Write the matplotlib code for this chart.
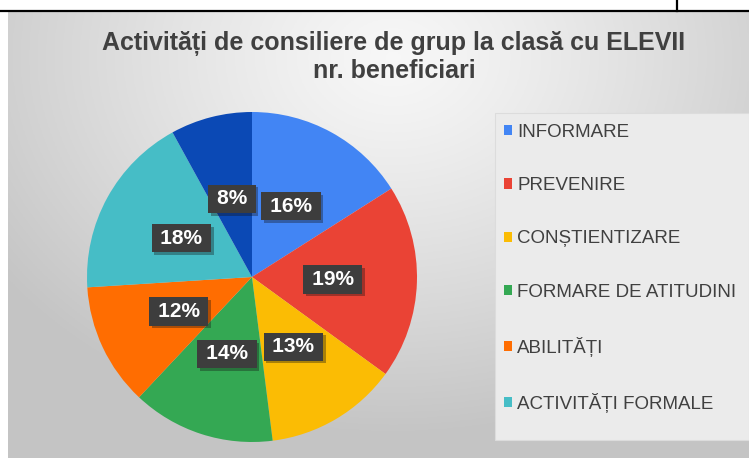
import numpy as np
import matplotlib.pyplot as plt
from matplotlib.lines import Line2D
from matplotlib.patches import Rectangle
import matplotlib.patheffects as pe

plt.rcParams['font.family'] = ['Liberation Sans', 'DejaVu Sans']

# date
categorii = ["INFORMARE", "PREVENIRE", "CONȘTIENTIZARE", "FORMARE DE ATITUDINI",
             "ABILITĂȚI", "ACTIVITĂȚI FORMALE", ""]
procente = [16, 19, 13, 14, 12, 18, 8]
culori = ["#4285F4", "#EA4335", "#FBBC04", "#34A853", "#FF6D01", "#46BDC6", "#0B49B5"]
n_legenda = 6  # a 7-a intrare e taiata in original

W, H = 749, 458
fig = plt.figure(figsize=(W / 100, H / 100), dpi=100)
fig.patch.set_facecolor("white")

# fundal cu gradient radial
top_px = 12
ax_bg = fig.add_axes([8 / W, 0, 1 - 8 / W, (H - top_px) / H])
ny, nx = 200, 300
yy, xx = np.mgrid[0:1:ny * 1j, 0:1:nx * 1j]
d = np.sqrt(((xx - 0.52) * 1.3) ** 2 + ((yy - 0.1) * 1.0) ** 2)
v = 0.97 - 0.20 * np.clip(d / 0.85, 0, 1) ** 1.2
ax_bg.imshow(np.dstack([v, v, v]), aspect="auto", extent=[0, 1, 1, 0])
ax_bg.set_xlim(0, 1)
ax_bg.set_ylim(1, 0)
ax_bg.axis("off")

# linii de tabel din captura
fig.add_artist(Line2D([0, 1], [1 - 10.5 / H] * 2, transform=fig.transFigure,
                      color="black", lw=1.6))
fig.add_artist(Line2D([677 / W] * 2, [1 - 10.5 / H, 1], transform=fig.transFigure,
                      color="black", lw=1.6))

# titlu
fig.text(394 / W, 1 - 43 / H, "Activități de consiliere de grup la clasă cu ELEVII",
         ha="center", va="center", fontsize=18, fontweight="bold", color="#404040")
fig.text(394 / W, 1 - 71 / H, "nr. beneficiari",
         ha="center", va="center", fontsize=18, fontweight="bold", color="#404040")

# cutia legendei
fig.add_artist(Rectangle((495 / W, 1 - 440 / H), (W - 495) / W, (440 - 113) / H,
                         transform=fig.transFigure, facecolor="#ebebeb",
                         edgecolor="#dcdcdc", lw=0.8, zorder=1))

# placinta
cx, cy, r = 252, 277, 165
ax = fig.add_axes([(cx - r) / W, (H - cy - r) / H, 2 * r / W, 2 * r / H])
wedges, _ = ax.pie(procente, colors=culori, startangle=90, counterclock=False,
                   radius=1, wedgeprops=dict(linewidth=0))
ax.set_xlim(-1, 1)
ax.set_ylim(-1, 1)
ax.set_aspect("equal")
ax.axis("off")

total = sum(procente)
unghi = 90.0
for w, p in zip(wedges, procente):
    frac = p / total * 360
    mid = np.deg2rad(unghi - frac / 2)
    unghi -= frac
    t = ax.text(0.49 * np.cos(mid), 0.49 * np.sin(mid), f"\u2009{p}%\u2009",
                ha="center", va="center", fontsize=15, fontweight="bold",
                color="white",
                bbox=dict(boxstyle="square,pad=0.22", facecolor="#3d3d3d",
                          edgecolor="none"))
    t.get_bbox_patch().set_path_effects([
        pe.SimplePatchShadow(offset=(2, -2), alpha=0.35), pe.Normal()])

leg = fig.legend(wedges[:n_legenda], categorii[:n_legenda],
                 loc="upper left", bbox_to_anchor=(504 / W, 1 - 124 / H),
                 frameon=False, fontsize=13.5, labelcolor="#404040",
                 handlelength=0.45, handleheight=0.45, handletextpad=0.25,
                 labelspacing=1.93, borderpad=0, borderaxespad=0)
leg.set_zorder(3)

fig.savefig("out.png", dpi=100)
